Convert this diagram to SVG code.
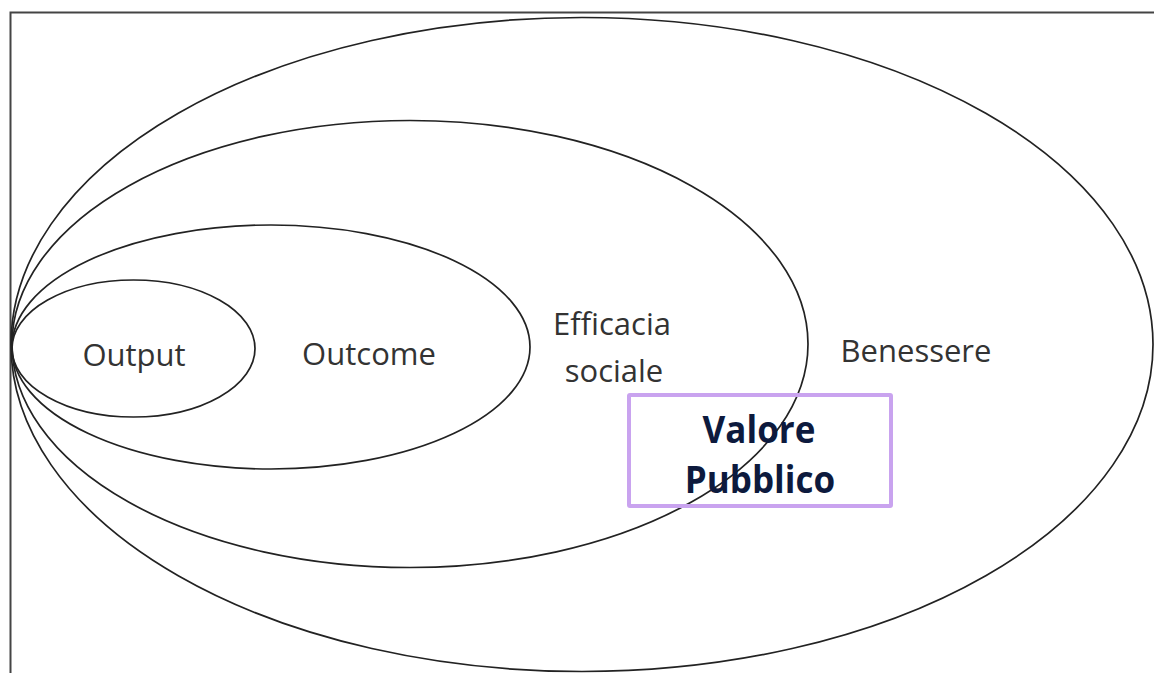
<svg xmlns="http://www.w3.org/2000/svg" width="1154" height="673" viewBox="0 0 1154 673">
<style>
.ell{fill:none;stroke:#222;stroke-width:1.7}
.lbl{font-family:"Open Sans","Noto Sans",sans-serif;font-size:31px;fill:#333;text-anchor:middle}
.vp{font-family:"Open Sans","Noto Sans",sans-serif;font-size:35px;font-weight:bold;fill:#0d1a3d;text-anchor:middle}
</style>
<rect width="1154" height="673" fill="#fff"/>
<path d="M10.5 673 V12.5 H1160" fill="none" stroke="#444" stroke-width="2"/>
<g id="benessere">
<ellipse class="ell" cx="582" cy="344.5" rx="571" ry="327"/>
<text class="lbl" x="916" y="362">Benessere</text>
</g>
<g id="efficacia">
<ellipse class="ell" cx="410" cy="344" rx="398" ry="223.5"/>
<text class="lbl" x="612" y="335">Efficacia</text>
<text class="lbl" x="614" y="382">sociale</text>
</g>
<g id="outcome">
<ellipse class="ell" cx="271" cy="347" rx="259" ry="122"/>
<text class="lbl" x="369" y="365">Outcome</text>
</g>
<g id="output">
<ellipse class="ell" cx="133.5" cy="348.5" rx="121.5" ry="68.5"/>
<text class="lbl" x="134" y="366">Output</text>
</g>
<g id="valore-pubblico">
<rect x="629" y="395" width="262" height="111" fill="none" stroke="#c9a3ef" stroke-width="4" rx="1"/>
<text class="vp" transform="translate(759,443) scale(1,1.05)">Valore</text>
<text class="vp" transform="translate(760,493) scale(1,1.05)">Pubblico</text>
</g>
<g id="connectors"/>
</svg>
